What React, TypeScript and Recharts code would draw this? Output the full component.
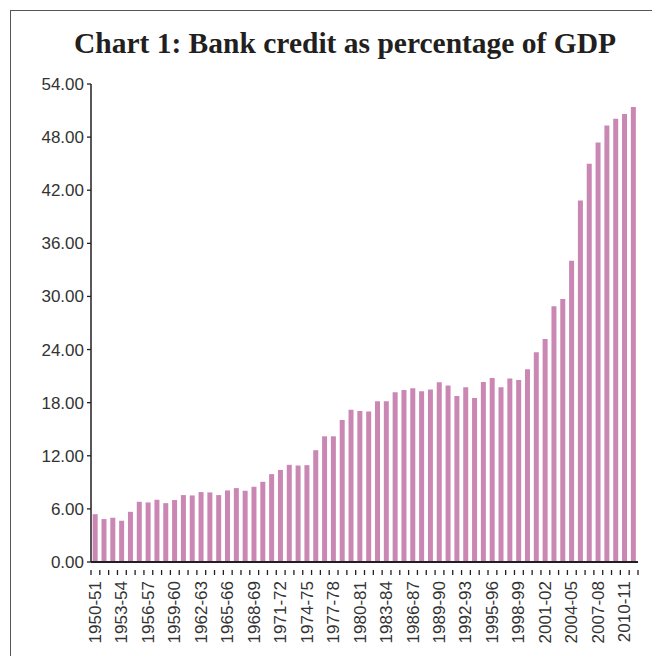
import { BarChart, Bar, XAxis, YAxis } from 'recharts'

const YEARS = [
  '1950-51', '1951-52', '1952-53', '1953-54', '1954-55', '1955-56', '1956-57', '1957-58',
  '1958-59', '1959-60', '1960-61', '1961-62', '1962-63', '1963-64', '1964-65', '1965-66',
  '1966-67', '1967-68', '1968-69', '1969-70', '1970-71', '1971-72', '1972-73', '1973-74',
  '1974-75', '1975-76', '1976-77', '1977-78', '1978-79', '1979-80', '1980-81', '1981-82',
  '1982-83', '1983-84', '1984-85', '1985-86', '1986-87', '1987-88', '1988-89', '1989-90',
  '1990-91', '1991-92', '1992-93', '1993-94', '1994-95', '1995-96', '1996-97', '1997-98',
  '1998-99', '1999-00', '2000-01', '2001-02', '2002-03', '2003-04', '2004-05', '2005-06',
  '2006-07', '2007-08', '2008-09', '2009-10', '2010-11', '2011-12',
]

const CREDIT_GDP = [
  5.4, 4.85, 5.0, 4.66, 5.67, 6.8, 6.73, 7.03, 6.65, 7.0,
  7.56, 7.52, 7.9, 7.86, 7.56, 8.09, 8.35, 8.05, 8.5, 9.06,
  9.93, 10.4, 10.98, 10.9, 10.94, 12.63, 14.2, 14.2, 16.05, 17.2,
  17.07, 17.0, 18.16, 18.16, 19.18, 19.44, 19.63, 19.29, 19.48, 20.3,
  19.95, 18.74, 19.74, 18.53, 20.34, 20.8, 19.74, 20.72, 20.57, 21.77,
  23.69, 25.2, 28.88, 29.7, 34.03, 40.83, 45.0, 47.4, 49.3, 50.08,
  50.6, 51.4,
]

const Y_TICKS = [0, 6, 12, 18, 24, 30, 36, 42, 48, 54]

const data = YEARS.map((year, i) => ({ year, value: CREDIT_GDP[i] }))

const WIDTH = 652
const HEIGHT = 656
const MARGIN = { top: 84, right: 14, bottom: 14, left: 0 }
const Y_AXIS_W = 91
const X_AXIS_H = 80
const PLOT_W = WIDTH - MARGIN.left - MARGIN.right - Y_AXIS_W
const HALF_BAND = PLOT_W / YEARS.length / 2

const AXIS_COLOR = '#231f20'
const FONT = '"Liberation Sans", Arial, sans-serif'

function YearTick(props: any) {
  const { x, y, payload, index } = props
  const i = payload?.index ?? index
  const isLast = i === YEARS.length - 1
  return (
    <g>
      <line x1={x - HALF_BAND} y1={y} x2={x - HALF_BAND} y2={y + 5} stroke={AXIS_COLOR} strokeWidth={1.3} />
      {isLast && (
        <line x1={x + HALF_BAND} y1={y} x2={x + HALF_BAND} y2={y + 5} stroke={AXIS_COLOR} strokeWidth={1.3} />
      )}
      {i % 3 === 0 && (
        <text
          x={0}
          y={0}
          transform={`translate(${x}, ${y + 11}) rotate(-90)`}
          textAnchor="end"
          dominantBaseline="central"
          fill="#333"
          fontSize={17}
          fontFamily={FONT}
        >
          {payload.value}
        </text>
      )}
    </g>
  )
}

export default function App() {
  return (
    <div style={{ position: 'absolute', left: 0, top: 0, width: WIDTH, height: HEIGHT, background: '#fff', overflow: 'hidden' }}>
      <div
        style={{
          position: 'absolute',
          left: 10,
          top: 10,
          width: WIDTH - 10,
          height: HEIGHT - 10,
          borderLeft: '1.5px solid #555',
          borderTop: '1.5px solid #555',
          boxSizing: 'border-box',
        }}
      />
      <div
        style={{
          position: 'absolute',
          left: 0,
          top: 27,
          width: 690,
          textAlign: 'center',
          fontFamily: '"Liberation Serif", serif',
          fontWeight: 'bold',
          fontSize: 29.5,
          color: '#231f20',
          whiteSpace: 'nowrap',
        }}
      >
        Chart 1: Bank credit as percentage of GDP
      </div>
      <div style={{ position: 'absolute', left: 0, top: 0 }}>
        <BarChart width={WIDTH} height={HEIGHT} data={data} margin={MARGIN} barCategoryGap="19%">
          <XAxis
            dataKey="year"
            interval={0}
            height={X_AXIS_H}
            tickLine={false}
            axisLine={{ stroke: AXIS_COLOR, strokeWidth: 1.8 }}
            tick={<YearTick />}
          />
          <YAxis
            width={Y_AXIS_W}
            domain={[0, 54]}
            ticks={Y_TICKS}
            interval={0}
            tickFormatter={(v: number) => v.toFixed(2)}
            tickSize={4}
            tickMargin={3}
            axisLine={{ stroke: AXIS_COLOR, strokeWidth: 1.5 }}
            tickLine={{ stroke: AXIS_COLOR, strokeWidth: 1.3 }}
            tick={{ fill: '#333', fontSize: 17, fontFamily: FONT }}
          />
          <Bar dataKey="value" fill="#cb87b4" isAnimationActive={false} />
        </BarChart>
      </div>
    </div>
  )
}
